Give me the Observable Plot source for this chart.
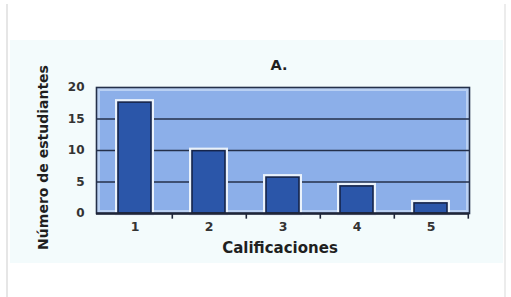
<!DOCTYPE html>
<html>
<head>
<meta charset="utf-8">
<script src="https://cdn.jsdelivr.net/npm/d3@7"></script>
<script src="https://cdn.jsdelivr.net/npm/@observablehq/plot@0.6"></script>
<style>
  html, body { margin: 0; padding: 0; background: #ffffff; }
  #wrap { position: relative; width: 511px; height: 297px; overflow: hidden; }
  #shadowL { position: absolute; left: 6px; top: 4px; width: 2px; height: 293px; background: #e6e6e6; }
  #shadowR { position: absolute; left: 504px; top: 4px; width: 2px; height: 293px; background: #ececec; }
  #panel { position: absolute; left: 10px; top: 40px; width: 493px; height: 223px; background: #f3fbfc; }
  #chart { position: absolute; left: 0; top: 0; }
</style>
</head>
<body>
<div id="wrap">
  <div id="shadowL"></div>
  <div id="shadowR"></div>
  <div id="panel"></div>
  <div id="chart"></div>
</div>
<script>
const categories = ["1", "2", "3", "4", "5"];
const values = [17.6, 9.9, 5.7, 4.3, 1.6];
const yTicks = [0, 5, 10, 15, 20];
const gridValues = [5, 10, 15];
const tickBoundaries = ["1", "2", "3", "4", "5"];
const title = "A.";
const xLabel = "Calificaciones";
const yLabel = "Número de estudiantes";

const data = categories.map((c, i) => ({cat: c, val: values[i]}));

const W = 511, H = 297;
const mL = 96, mR = 42, mT = 87, mB = 84;
const halfBand = (W - mL - mR) / categories.length / 2;

const chart = Plot.plot({
  width: W,
  height: H,
  marginLeft: mL,
  marginRight: mR,
  marginTop: mT,
  marginBottom: mB,
  style: {background: "transparent", fontFamily: "DejaVu Sans, Verdana, sans-serif", overflow: "visible"},
  x: {domain: categories, paddingInner: 0.55, paddingOuter: 0.275},
  y: {domain: [0, 20]},
  marks: [
    Plot.frame({fill: "#8cafe9", stroke: "none"}),
    Plot.frame({stroke: "#b9d0f3", strokeWidth: 3, inset: 2}),
    Plot.ruleY(gridValues, {stroke: "#24304a", strokeWidth: 1.6}),
    Plot.barY(data, {x: "cat", y: "val", fill: "none", stroke: "#eaf2fb", strokeWidth: 6}),
    Plot.barY(data, {x: "cat", y: "val", fill: "#2b56a9", stroke: "#15244a", strokeWidth: 1.6}),
    Plot.frame({stroke: "#24304a", strokeWidth: 1.6, fill: "none"}),
    Plot.ruleY([0], {stroke: "#1e2538", strokeWidth: 2.6}),
    Plot.ruleX(tickBoundaries, {x: d => d, y1: 0, y2: -0.9, dx: halfBand, stroke: "#1e2538", strokeWidth: 1.6}),
    Plot.axisY(yTicks, {tickSize: 0, tickPadding: 12, fontSize: 12, fill: "#333333", fontWeight: "bold", label: null}),
    Plot.axisX({tickSize: 0, tickPadding: 9, fontSize: 12.5, fill: "#333333", fontWeight: "bold", label: null}),
    Plot.text([xLabel], {frameAnchor: "bottom", dx: -3, dy: 35, text: d => d, fontSize: 15, fontWeight: "bold", fill: "#1f1f1f", lineAnchor: "middle", style: "letter-spacing:0.6px"}),
    Plot.text([yLabel], {frameAnchor: "left", textAnchor: "middle", lineAnchor: "middle", dx: -53, dy: 7, rotate: -90, text: d => d, fontSize: 14, fontWeight: "bold", fill: "#1f1f1f"}),
    Plot.text([title], {frameAnchor: "top", lineAnchor: "middle", dx: -4, dy: -22, text: d => d, fontSize: 14.5, fontWeight: "bold", fill: "#1f1f1f"})
  ]
});
document.getElementById("chart").appendChild(chart);
</script>
</body>
</html>
